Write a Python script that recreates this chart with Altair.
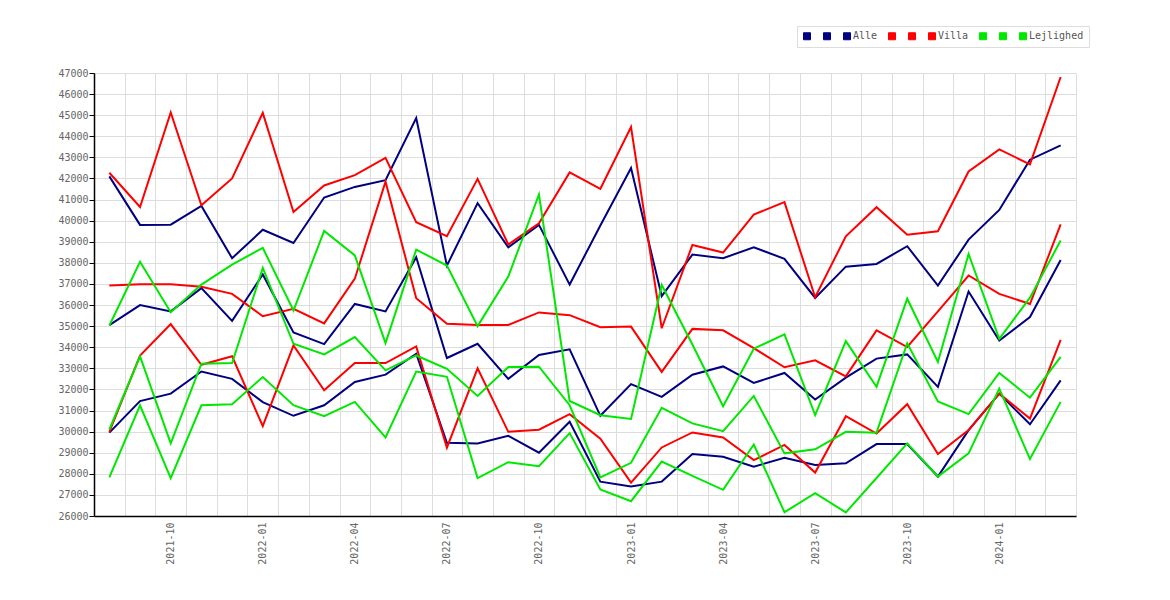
import altair as alt
import pandas as pd

months = [
    "2021-08", "2021-09", "2021-10", "2021-11", "2021-12",
    "2022-01", "2022-02", "2022-03", "2022-04", "2022-05", "2022-06",
    "2022-07", "2022-08", "2022-09", "2022-10", "2022-11", "2022-12",
    "2023-01", "2023-02", "2023-03", "2023-04", "2023-05", "2023-06",
    "2023-07", "2023-08", "2023-09", "2023-10", "2023-11", "2023-12",
    "2024-01", "2024-02", "2024-03",
]

alle_1 = [42100, 39800, 39810, 40700, 38220, 39570, 38940, 41100, 41600, 41920, 44860,
          37870, 40830, 38740, 39800, 36970, 39770, 42490, 36420, 38390, 38220, 38740,
          38190, 36340, 37820, 37950, 38790, 36920, 39100, 40510, 42890, 43570]
alle_2 = [35050, 36000, 35700, 36800, 35250, 37450, 34700, 34150, 36050, 35700, 38270,
          33490, 34165, 32500, 33630, 33900, 30750, 32250, 31650, 32700, 33090, 32310,
          32780, 31520, 32560, 33460, 33660, 32120, 36640, 34320, 35430, 38140]
alle_3 = [29950, 31450, 31800, 32850, 32500, 31400, 30750, 31250, 32350, 32700, 33690,
          29470, 29440, 29800, 29000, 30470, 27630, 27400, 27630, 28940, 28810, 28340,
          28760, 28420, 28500, 29410, 29410, 27870, 30070, 31800, 30350, 32430]

villa_1 = [42270, 40650, 45130, 40730, 42000, 45110, 40410, 41670, 42160, 42980, 39930,
           39260, 41980, 38870, 39880, 42290, 41510, 44440, 34900, 38850, 38490, 40290,
           40880, 36370, 39260, 40640, 39330, 39500, 42330, 43380, 42670, 46810]
villa_2 = [36930, 36980, 36980, 36870, 36530, 35470, 35820, 35130, 37250, 41850, 36320,
           35110, 35060, 35060, 35650, 35520, 34950, 34980, 32830, 34870, 34800, 33960,
           33050, 33380, 32620, 34800, 34010, 35700, 37400, 36530, 36050, 39820]
villa_3 = [29990, 33600, 35100, 33170, 33570, 30260, 34090, 31960, 33250, 33250, 34040,
           29240, 33000, 29990, 30090, 30830, 29660, 27580, 29250, 29960, 29720, 28650,
           29370, 28060, 30730, 29910, 31300, 28940, 30070, 31800, 30620, 34350]

lejl_1 = [35030, 38050, 35660, 36970, 37920, 38710, 35740, 39510, 38350, 34200, 38630,
          37870, 35000, 37350, 41240, 31450, 30775, 30600, 36950, 34130, 31200, 33930,
          34610, 30780, 34290, 32130, 36300, 33300, 38420, 34400, 36350, 39060]
lejl_2 = [30100, 33570, 29440, 33220, 33250, 37760, 34165, 33660, 34480, 32905, 33610,
          32980, 31690, 33060, 33080, 31250, 27830, 28520, 31130, 30390, 30020, 31690,
          28970, 29160, 29990, 29950, 34190, 31430, 30830, 32780, 31610, 33540]
lejl_3 = [27835, 31250, 27790, 31250, 31300, 32590, 31250, 30730, 31410, 29720, 32850,
          32600, 27800, 28550, 28360, 29930, 27260, 26700, 28580, 27900, 27240, 29390,
          26180, 27080, 26170, 27800, 29440, 27870, 28970, 32040, 28700, 31410]

group_names = ["Alle", "Villa", "Lejlighed"]
group_colors = ["#000080", "#ff0000", "#00e800"]
group_series = [[alle_1, alle_2, alle_3], [villa_1, villa_2, villa_3], [lejl_1, lejl_2, lejl_3]]

y_ticks = list(range(26000, 47001, 1000))

rows = []
serie_domain = []
serie_colors = []
for name, color, lists in zip(group_names, group_colors, group_series):
    for k, vals in enumerate(lists, start=1):
        key = f"{name} {k}"
        serie_domain.append(key)
        serie_colors.append(color)
        for m, v in zip(months, vals):
            rows.append({"month": m, "serie": key, "value": v})

df = pd.DataFrame(rows)

mono = "DejaVu Sans Mono"

x_enc = alt.X(
    "month:O",
    sort=months,
    bandPosition=0.5,
    scale=alt.Scale(type="band", paddingInner=0, paddingOuter=0),
    axis=alt.Axis(
        title=None,
        grid=True,
        tickBand="extent",
        ticks=False,
        labelAngle=270,
        labelExpr="indexof(['01','04','07','10'], substring(datum.value, 5, 7)) >= 0 ? datum.value : ''",
        labelFont=mono,
        labelFontSize=10,
        labelColor="#666666",
        labelPadding=6,
        domainColor="#000000",
        domainWidth=1.5,
        gridColor="#dddddd",
        gridWidth=1,
    ),
)

y_enc = alt.Y(
    "value:Q",
    scale=alt.Scale(domain=[26000, 47000], nice=False, zero=False),
    axis=alt.Axis(
        title=None,
        values=y_ticks,
        format="d",
        tickSize=5,
        tickColor="#000000",
        labelFont=mono,
        labelFontSize=10,
        labelColor="#666666",
        labelPadding=1,
        domainColor="#000000",
        domainWidth=1.5,
        gridColor="#dddddd",
        gridWidth=1,
    ),
)

color_scale = alt.Scale(domain=serie_domain, range=serie_colors)

legend_spec = alt.Legend(
    title=None,
    orient="none",
    legendX=703,
    legendY=-47,
    direction="horizontal",
    columns=9,
    symbolType="square",
    symbolSize=49,
    symbolStrokeColor="#555555",
    symbolStrokeWidth=1,
    symbolOpacity=1,
    labelOffset=1,
    columnPadding=8,
    labelFont=mono,
    labelFontSize=10,
    labelColor="#555555",
    labelExpr="substring(datum.value, length(datum.value) - 1) == '3' ? split(datum.value, ' ')[0] : ' '",
    strokeColor="#dddddd",
    fillColor="#ffffff",
    padding=5,
)

legend_pts = alt.Chart(df).mark_square(filled=True, size=0, opacity=1).encode(
    x=x_enc,
    y=y_enc,
    color=alt.Color("serie:N", scale=color_scale, legend=legend_spec),
)

lines = alt.Chart(df).mark_line(strokeWidth=2).encode(
    x=x_enc,
    y=y_enc,
    color=alt.Color("serie:N", scale=color_scale, legend=legend_spec),
    detail="serie:N",
)

chart = alt.layer(legend_pts, lines).properties(
    width=982,
    height=443,
    padding={"left": 86, "top": 65, "right": 80, "bottom": 70},
    autosize=alt.AutoSizeParams(type="none"),
    background="#ffffff",
).configure_view(strokeWidth=0)

chart.save("out.html", embed_options={"renderer": "svg", "actions": False})
